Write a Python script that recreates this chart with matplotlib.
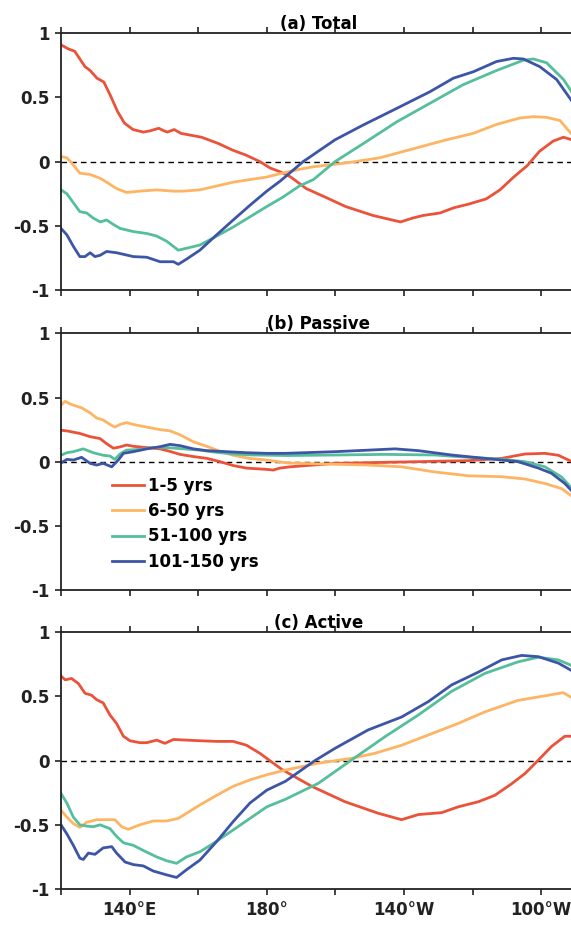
import numpy as np
import matplotlib
matplotlib.use("Agg")
import matplotlib.pyplot as plt

plt.rcParams['font.family'] = ['DejaVu Sans']
plt.rcParams['font.weight'] = 'bold'
plt.rcParams['font.size'] = 12

labels = ['1-5 yrs', '6-50 yrs', '51-100 yrs', '101-150 yrs']
colors = ['#EA5339', '#FDB563', '#55BE9B', '#3D55A6']
titles = ['(a) Total', '(b) Passive', '(c) Active']

# longitude in degrees east (120E .. 90W)
# ---- (a) Total ----
a_red_lon = [120, 122, 124, 125.5, 127, 128.5, 130.5, 132.5, 134.5, 136.5, 138.5, 141, 144, 146, 148.5,
             150, 151, 153, 155, 157, 161, 166, 170, 174, 178, 181, 184, 187, 191.5, 196.5, 203, 211,
             219, 222.5, 225.5, 230.5, 234.5, 239, 244, 248, 252, 256, 259.5, 263.5, 266.5, 269]
a_red = [0.91, 0.88, 0.86, 0.80, 0.74, 0.71, 0.65, 0.62, 0.51, 0.39, 0.30, 0.25, 0.23, 0.24, 0.26,
         0.24, 0.23, 0.25, 0.22, 0.21, 0.19, 0.14, 0.09, 0.05, 0.0, -0.05, -0.08, -0.12, -0.21, -0.27,
         -0.35, -0.42, -0.47, -0.44, -0.42, -0.40, -0.36, -0.33, -0.29, -0.22, -0.12, -0.03, 0.08,
         0.16, 0.19, 0.17]
a_orange_lon = [120, 121.7, 123.1, 125.5, 128.5, 131.4, 133.3, 136.2, 139.1, 143, 147.9, 152.8, 155.7,
                160.5, 165.4, 170.2, 175.1, 180, 184.5, 189.5, 193.6, 203.3, 213, 222.7, 232.4, 240.2,
                247, 253.8, 257.7, 261.6, 265.5, 269]
a_orange = [0.04, 0.03, -0.01, -0.09, -0.10, -0.13, -0.16, -0.21, -0.24, -0.23, -0.22, -0.23, -0.23,
            -0.22, -0.19, -0.16, -0.14, -0.12, -0.09, -0.06, -0.04, -0.01, 0.03, 0.10, 0.17, 0.22,
            0.29, 0.34, 0.35, 0.345, 0.32, 0.21]
a_green_lon = [120, 121.7, 123.6, 125.5, 127.5, 129.4, 131.4, 133.3, 135.3, 137.2, 141.1, 145, 147.9,
               150.8, 154.2, 156.6, 160.5, 165.4, 170.2, 175.1, 180, 184.5, 189.5, 193.6, 199.9, 208.1,
               217.9, 227.6, 237.3, 247, 254.8, 257.7, 261.6, 266.5, 269]
a_green = [-0.22, -0.25, -0.32, -0.39, -0.40, -0.44, -0.47, -0.455, -0.49, -0.52, -0.545, -0.56, -0.58,
           -0.62, -0.69, -0.675, -0.65, -0.58, -0.51, -0.43, -0.35, -0.28, -0.19, -0.14, 0.0, 0.14,
           0.31, 0.455, 0.60, 0.71, 0.79, 0.80, 0.77, 0.64, 0.54]
a_blue_lon = [120, 121.7, 123.6, 125.5, 127, 128.5, 129.9, 131.4, 133.3, 136.2, 141.1, 145, 148.9, 152.8,
              154.2, 156.6, 160.5, 165.4, 170.2, 175.1, 180, 184, 190.6, 199.9, 208.1, 217.9, 227.6,
              234.4, 240.2, 247, 251.9, 254.8, 259.6, 264.5, 269]
a_blue = [-0.52, -0.57, -0.66, -0.74, -0.74, -0.71, -0.74, -0.73, -0.70, -0.71, -0.74, -0.745, -0.78,
          -0.78, -0.80, -0.76, -0.69, -0.57, -0.455, -0.34, -0.23, -0.15, 0.0, 0.17, 0.285, 0.415,
          0.545, 0.65, 0.70, 0.78, 0.805, 0.80, 0.74, 0.64, 0.47]

# ---- (b) Passive ----
b_red_lon = [120, 121.7, 125.5, 128.5, 131.4, 133.3, 135.3, 137.2, 139.1, 141.1, 145, 148.9, 151.8,
             154.7, 158.6, 162.5, 166.4, 170.2, 174.1, 180, 181.9, 183.8, 186.8, 199.9, 214.5, 229,
             238.8, 248.5, 255.3, 261.1, 265, 269]
b_red = [0.245, 0.24, 0.22, 0.195, 0.18, 0.14, 0.105, 0.115, 0.13, 0.12, 0.11, 0.10, 0.08, 0.057, 0.04,
         0.026, 0.0, -0.03, -0.05, -0.06, -0.065, -0.05, -0.04, -0.013, -0.005, 0.003, 0.008, 0.026,
         0.06, 0.065, 0.05, 0.0]
b_orange_lon = [120, 121.2, 123.1, 126, 128.5, 130.4, 132.3, 134.3, 135.7, 137.2, 139.1, 141.1, 143,
                145.9, 148.9, 151.8, 154.7, 158.6, 162.5, 166.4, 170.2, 175.1, 180, 186, 199.9, 209.6,
                219.3, 229, 238.8, 248.5, 255.3, 261.1, 266, 269]
b_orange = [0.44, 0.47, 0.445, 0.42, 0.38, 0.34, 0.325, 0.29, 0.27, 0.29, 0.305, 0.29, 0.28, 0.265,
            0.25, 0.24, 0.21, 0.155, 0.12, 0.08, 0.05, 0.025, 0.013, -0.01, -0.02, -0.026, -0.04,
            -0.08, -0.11, -0.117, -0.135, -0.17, -0.21, -0.27]
b_green_lon = [120, 121.7, 123.6, 126.5, 129.4, 132.3, 134.3, 135.7, 137.2, 139.1, 143, 146.9, 150.8,
               155.7, 160.5, 165.4, 170.2, 176, 181.9, 186, 199.9, 214.5, 229, 238.8, 248.5, 255.3,
               261.1, 266, 269]
b_green = [0.05, 0.07, 0.078, 0.10, 0.07, 0.05, 0.044, 0.018, 0.06, 0.09, 0.096, 0.11, 0.11, 0.10,
           0.09, 0.073, 0.06, 0.052, 0.05, 0.048, 0.052, 0.057, 0.052, 0.034, 0.02, 0.0, -0.04, -0.12,
           -0.21]
b_blue_lon = [120, 121.7, 123.6, 126, 128.5, 130.4, 132.3, 134.8, 136.7, 138.2, 141.1, 145, 148.9,
              151.8, 154.7, 158.6, 162.5, 168.3, 174.1, 180, 185.3, 199.9, 209.6, 217.4, 224.2, 233.9,
              243.6, 253.3, 259.2, 263, 266.9, 269]
b_blue = [-0.01, 0.018, 0.013, 0.034, -0.013, -0.026, -0.013, -0.04, 0.013, 0.065, 0.078, 0.10, 0.117,
          0.135, 0.125, 0.10, 0.086, 0.078, 0.07, 0.065, 0.065, 0.078, 0.09, 0.10, 0.086, 0.052, 0.026,
          0.0, -0.05, -0.09, -0.17, -0.23]

# ---- (c) Active ----
c_red_lon = [120, 121.2, 123.1, 125.1, 127, 128.9, 130.4, 132.3, 134.3, 136.2, 138.2, 140.1, 143, 145,
             147.9, 150.3, 152.8, 156.6, 160.5, 165.4, 170.2, 174.1, 178, 180.9, 184.5, 193.1, 202.8,
             212.5, 219.3, 224.2, 231, 235.8, 241.7, 246.5, 251.4, 255.3, 259.2, 263, 266.9, 269]
c_red = [0.66, 0.63, 0.64, 0.60, 0.525, 0.51, 0.475, 0.45, 0.355, 0.29, 0.19, 0.155, 0.14, 0.14, 0.16,
         0.135, 0.165, 0.16, 0.155, 0.15, 0.15, 0.12, 0.057, 0.0, -0.07, -0.20, -0.32, -0.41, -0.46,
         -0.42, -0.405, -0.36, -0.32, -0.27, -0.18, -0.10, 0.005, 0.11, 0.19, 0.19]
c_orange_lon = [120, 121.7, 123.6, 125.5, 127.5, 130.4, 133.3, 135.7, 137.7, 139.6, 143, 146.9, 150.8,
                154.2, 156.6, 160.5, 165.4, 170.2, 175.1, 180, 185.5, 195, 204.7, 211.5, 219.3, 227.1,
                235.8, 243.6, 253.3, 261.1, 266.4, 269]
c_orange = [-0.385, -0.44, -0.49, -0.52, -0.48, -0.46, -0.46, -0.46, -0.515, -0.535, -0.50, -0.47,
            -0.47, -0.45, -0.41, -0.345, -0.27, -0.20, -0.15, -0.11, -0.073, -0.02, 0.018, 0.057, 0.12,
            0.20, 0.29, 0.38, 0.47, 0.505, 0.53, 0.49]
c_green_lon = [120, 121.7, 123.6, 125.5, 127.5, 129.4, 131.4, 134.3, 136.2, 138.2, 141.1, 144, 147.9,
               150.8, 153.7, 156.6, 160.5, 164.4, 170.2, 175.1, 180, 185.5, 195, 204.7, 214.5, 224.2,
               233.9, 243.6, 253.3, 259.2, 265, 269]
c_green = [-0.255, -0.33, -0.44, -0.50, -0.51, -0.515, -0.50, -0.53, -0.59, -0.64, -0.66, -0.70, -0.75,
           -0.78, -0.80, -0.75, -0.71, -0.645, -0.54, -0.45, -0.36, -0.30, -0.177, 0.005, 0.187, 0.356,
           0.54, 0.68, 0.77, 0.806, 0.785, 0.74]
c_blue_lon = [120, 121.7, 123.6, 125.5, 126.5, 128, 129.9, 132.3, 134.8, 136.2, 138.7, 141.1, 144,
              146.9, 150.8, 153.7, 156.6, 160.5, 165.4, 170.2, 175.1, 180, 185.5, 194, 199.9, 209.6,
              219.3, 227.1, 233.9, 241.7, 248.5, 254.3, 259.2, 265, 269]
c_blue = [-0.50, -0.57, -0.66, -0.76, -0.77, -0.72, -0.73, -0.68, -0.67, -0.72, -0.79, -0.81, -0.82,
          -0.86, -0.89, -0.91, -0.85, -0.775, -0.63, -0.475, -0.33, -0.23, -0.16, 0.0, 0.096, 0.24,
          0.34, 0.46, 0.59, 0.69, 0.785, 0.82, 0.81, 0.76, 0.70]

panels = [
    [(a_red_lon, a_red), (a_orange_lon, a_orange), (a_green_lon, a_green), (a_blue_lon, a_blue)],
    [(b_red_lon, b_red), (b_orange_lon, b_orange), (b_green_lon, b_green), (b_blue_lon, b_blue)],
    [(c_red_lon, c_red), (c_orange_lon, c_orange), (c_green_lon, c_green), (c_blue_lon, c_blue)],
]

xticks = np.arange(120, 270, 20)
xlabel_map = {140: '140°E', 180: '180°', 220: '140°W', 260: '100°W'}

fig = plt.figure(figsize=(5.71, 9.27), dpi=100)
bottoms = [0.6872, 0.3635, 0.0410]
left, width, height = 0.1068, 0.9010, 0.2769

for i, series in enumerate(panels):
    ax = fig.add_axes([left, bottoms[i], width, height])
    ax.axhline(0, color='black', ls=(0, (4, 3)), lw=1.0, zorder=1)
    for (lon, val), c, lab in zip(series, colors, labels):
        ax.plot(lon, val, color=c, lw=2.0, label=lab, zorder=2,
                solid_joinstyle='round')
    ax.set_xlim(120, 270)
    ax.set_ylim(-1, 1)
    ax.set_yticks([-1, -0.5, 0, 0.5, 1])
    ax.set_yticklabels(['-1', '-0.5', '0', '0.5', '1'])
    ax.set_xticks(xticks)
    if i == 2:
        ax.set_xticklabels([xlabel_map.get(t, '') for t in xticks])
    else:
        ax.set_xticklabels([])
    ax.tick_params(direction='out', length=4, width=1.2, top=True, right=False,
                   labeltop=False, pad=4, colors='#222222', labelcolor='#222222')
    ax.tick_params(axis='x', pad=5)
    for s in ax.spines.values():
        s.set_linewidth(1.3)
        s.set_color('#222222')
    ax.set_title(titles[i], fontsize=12, fontweight='bold', pad=3)
    if i == 1:
        ax.legend(loc='upper left', bbox_to_anchor=(0.10, 0.44), frameon=False,
                  borderpad=0, borderaxespad=0, handlelength=1.9, handletextpad=0.25,
                  labelspacing=0.43, fontsize=12)

fig.savefig('out.png', dpi=100)
